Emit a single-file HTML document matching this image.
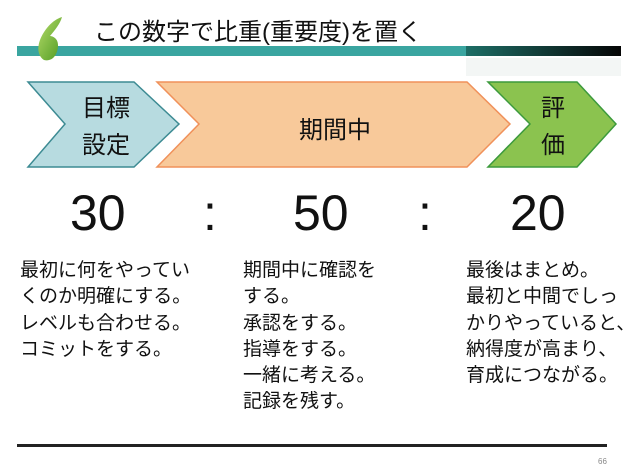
<!DOCTYPE html>
<html><head><meta charset="utf-8"><style>
body{margin:0;width:634px;height:476px;background:#fff;position:relative;overflow:hidden;font-family:"Liberation Sans","Noto Sans CJK JP",sans-serif;color:#111}
.t{position:absolute;white-space:nowrap}
.col{position:absolute;top:258px;font-size:19px;line-height:26.3px;white-space:nowrap}
.n{position:absolute;top:188px;font-size:50px;line-height:50px}
</style></head><body>
<svg width="634" height="476" style="position:absolute;left:0;top:0">
<defs><linearGradient id="g" x1="0" x2="1"><stop offset="0" stop-color="#1d6e66"/><stop offset="1" stop-color="#050505"/></linearGradient>
<linearGradient id="lf" x1="0" y1="0" x2="1" y2="1"><stop offset="0" stop-color="#b6dc6a"/><stop offset="1" stop-color="#4f9a22"/></linearGradient></defs>
<rect x="17" y="46" width="450" height="10" fill="#3aa5a0"/>
<rect x="466" y="46" width="155" height="10" fill="url(#g)"/>
<rect x="466" y="58" width="155" height="18" fill="#f3f6f5"/>
<path d="M62 17 C52 20 44 30 40 40 C37 48 38 56 44 60 C52 62 58 55 58 45 C58 38 52 36 50 36 C55 30 60 24 62 17Z" fill="url(#lf)"/>
<polygon points="28,82 134,82 179,124 134,167 28,167 65,124" fill="#b7dbe0" stroke="#3d8b93" stroke-width="1.5"/>
<polygon points="157,82 467,82 510,124 467,167 157,167 199,124" fill="#f8c99a" stroke="#f0915a" stroke-width="1.5"/>
<polygon points="488,82 577,82 616,124 577,167 488,167 530,124" fill="#8bc34f" stroke="#3c9a3c" stroke-width="1.5"/>
<rect x="17" y="444" width="590" height="3" fill="#222"/>
</svg>
<div class="t" style="left:94px;top:12px;font-size:24px">この数字で比重(重要度)を置く</div>
<div class="t" style="left:82px;top:90px;font-size:24px;line-height:37px">目標<br>設定</div>
<div class="t" style="left:299px;top:110px;font-size:24px">期間中</div>
<div class="t" style="left:541px;top:90px;font-size:24px;line-height:37px">評<br>価</div>
<div class="n" style="left:70px">30</div>
<div class="n" style="left:203px">:</div>
<div class="n" style="left:293px">50</div>
<div class="n" style="left:418px">:</div>
<div class="n" style="left:510px">20</div>
<div class="col" style="left:20px">最初に何をやってい<br>くのか明確にする。<br>レベルも合わせる。<br>コミットをする。</div>
<div class="col" style="left:243px">期間中に確認を<br>する。<br>承認をする。<br>指導をする。<br>一緒に考える。<br>記録を残す。</div>
<div class="col" style="left:466px">最後はまとめ。<br>最初と中間でしっ<br>かりやっていると、<br>納得度が高まり、<br>育成につながる。</div>
<div class="t" style="left:598px;top:457px;font-size:8px;color:#888">66</div>
</body></html>
